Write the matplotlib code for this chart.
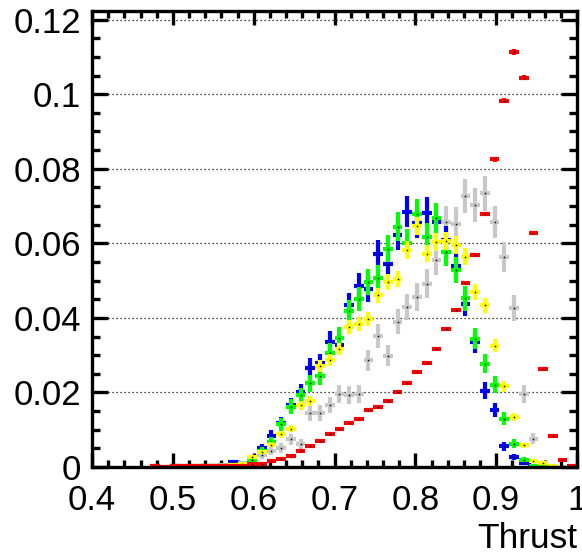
import numpy as np
import matplotlib
matplotlib.use('Agg')
from matplotlib import pyplot as plt
from matplotlib.ticker import MultipleLocator, FuncFormatter

plt.rcParams['font.family'] = ['Liberation Sans', 'DejaVu Sans']

# thrust histograms, 50 bins between 0.4 and 1.0 (normalised bin contents)
bin_lo = 0.4
bin_hi = 1.0
n_bins = 50

grey = [0, 0, 0, 0, 0, 0, 0, 0, 0, 0,
        0, 0, 0.0003, 0.0005, 0.0008, 0.0011, 0.0019, 0.0031, 0.0043, 0.0051,
        0.0074, 0.0062, 0.0145, 0.0145, 0.0167, 0.0196, 0.0194, 0.0195, 0.0286, 0.0351,
        0.0299, 0.0390, 0.0429, 0.0456, 0.0492, 0.0554, 0.0657, 0.0653, 0.0727, 0.0703,
        0.0734, 0.0657, 0.0563, 0.0427, 0.0196, 0.0076, 0.0002, 0.0001, 0, 0]

blue = [0, 0, 0, 0, 0, 0, 0, 0, 0.0003, 0,
        0, 0.0002, 0.0004, 0.0003, 0.0013, 0.0008, 0.0020, 0.0050, 0.0084, 0.0118,
        0.0165, 0.0200, 0.0266, 0.0278, 0.0335, 0.0328, 0.0434, 0.0485, 0.0478, 0.0572,
        0.0544, 0.0621, 0.0685, 0.0655, 0.0682, 0.0658, 0.0608, 0.0538, 0.0437, 0.0336,
        0.0205, 0.0153, 0.0055, 0.0027, 0.0012, 0.0002, 0, 0, 0, 0]

green = [0, 0, 0, 0, 0, 0, 0.0003, 0, 0.0002, 0.0003,
         0.0002, 0.0002, 0.0003, 0.0004, 0.0006, 0.0009, 0.0018, 0.0044, 0.0067, 0.0114,
         0.0162, 0.0192, 0.0225, 0.0244, 0.0306, 0.0347, 0.0418, 0.0450, 0.0496, 0.0508,
         0.0586, 0.0644, 0.0600, 0.0678, 0.0616, 0.0668, 0.0577, 0.0529, 0.0452, 0.0344,
         0.0277, 0.0221, 0.0130, 0.0062, 0.0019, 0.0002, 0.0001, 0, 0, 0]

yellow = [0, 0, 0, 0, 0, 0, 0, 0, 0, 0,
          0, 0.0002, 0.0003, 0.0003, 0.0005, 0.0009, 0.0026, 0.0040, 0.0060, 0.0088,
          0.0103, 0.0165, 0.0177, 0.0270, 0.0286, 0.0316, 0.0375, 0.0383, 0.0397, 0.0460,
          0.0496, 0.0505, 0.0582, 0.0647, 0.0572, 0.0603, 0.0606, 0.0595, 0.0564, 0.0469,
          0.0434, 0.0325, 0.0216, 0.0135, 0.0058, 0.0016, 0.0010, 0.0002, 0, 0]

red = [0, 0, 0, 0, 0, 0, 0.0002, 0.0001, 0.0002, 0.0002,
       0.0002, 0.0003, 0.0003, 0.0003, 0.0003, 0.0004, 0.0007, 0.0009, 0.0015, 0.0021,
       0.0029, 0.0042, 0.0057, 0.0070, 0.0088, 0.0103, 0.0119, 0.0130, 0.0152, 0.0160,
       0.0178, 0.0202, 0.0224, 0.0255, 0.0279, 0.0317, 0.0369, 0.0421, 0.0494, 0.0569,
       0.0678, 0.0825, 0.0982, 0.1113, 0.1044, 0.0628, 0.0263, 0.0084, 0.0018, 0.0003]

# effective number of entries per sample (sets the size of the error bars)
n_events = {'grey': 3450, 'blue': 4000, 'green': 4300, 'yellow': 11000, 'red': 200000}

samples = [('grey', grey, '#c8c8c8'),
           ('blue', blue, '#0000ff'),
           ('green', green, '#00ff00'),
           ('yellow', yellow, '#ffff00'),
           ('red', red, '#ff0000')]

edges = np.linspace(bin_lo, bin_hi, n_bins + 1)
centres = 0.5*(edges[:-1] + edges[1:])
half_width = 0.5*(edges[1] - edges[0])

fig = plt.figure(figsize=(5.82, 5.56), dpi=100)
ax = fig.add_axes([92/582, 1 - 467/556, (577 - 92)/582, (467 - 11)/556])

for name, vals, col in samples:
    vals = np.array(vals)
    keep = vals > 0
    err = np.sqrt(vals[keep]/n_events[name])
    ax.errorbar(centres[keep], vals[keep], xerr=half_width, yerr=err, fmt='none',
                ecolor=col, elinewidth=3.0, capsize=0)
    ax.plot(centres[keep], vals[keep], 's', color='k', ms=1.1, mew=0)

ax.set_xlim(bin_lo, bin_hi)
ax.set_ylim(0, 0.1223)

ax.xaxis.set_major_locator(MultipleLocator(0.1))
ax.xaxis.set_minor_locator(MultipleLocator(0.02))
ax.yaxis.set_major_locator(MultipleLocator(0.02))
ax.yaxis.set_minor_locator(MultipleLocator(0.005))
fmt = FuncFormatter(lambda v, p: '%g' % round(v, 4))
ax.xaxis.set_major_formatter(fmt)
ax.yaxis.set_major_formatter(fmt)

ax.yaxis.grid(True, which='major', color='k', lw=0.9, linestyle=(0, (1, 2.2)))
ax.set_axisbelow(True)

for s in ax.spines.values():
    s.set_linewidth(2.4)
ax.tick_params(which='both', direction='in', top=True, right=True, width=2.4, labelsize=25)
ax.tick_params(axis='x', which='major', length=10, pad=12)
ax.tick_params(axis='x', which='minor', length=5)
ax.tick_params(axis='y', which='major', length=11.5, pad=8)
ax.tick_params(axis='y', which='minor', length=6)

fig.text(577/582, 1 - 548/556, 'Thrust', ha='right', va='baseline', fontsize=25.5)

fig.savefig('out.png', dpi=100)
